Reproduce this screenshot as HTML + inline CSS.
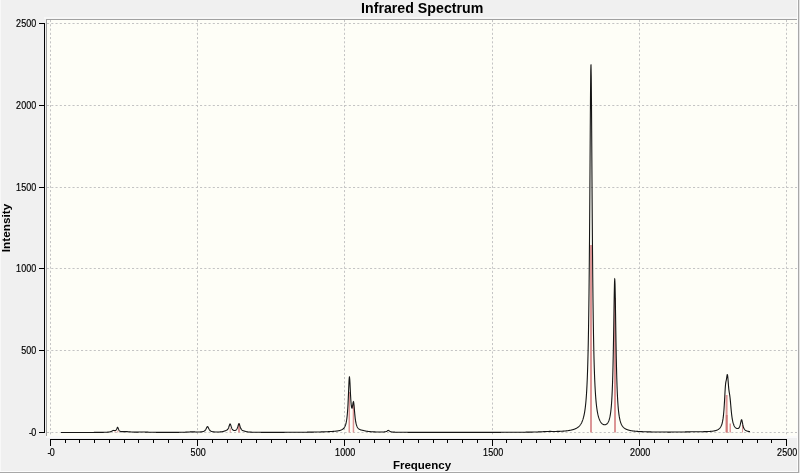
<!DOCTYPE html>
<html><head><meta charset="utf-8"><style>
html,body{margin:0;padding:0;width:800px;height:473px;overflow:hidden;background:#f0f0f0}
svg{display:block;will-change:transform}
</style></head><body>
<svg width="800" height="473" viewBox="0 0 800 473" shape-rendering="crispEdges">
<rect x="0" y="0" width="800" height="473" fill="#f0f0f0"/>
<rect x="0" y="0" width="1" height="473" fill="#f8f8f8"/>
<rect x="797" y="0" width="1" height="473" fill="#fcfcfc"/>
<rect x="798" y="0" width="1" height="473" fill="#a8a8a8"/>
<rect x="799" y="0" width="1" height="473" fill="#e4e4e4"/>
<rect x="0" y="471" width="798" height="1" fill="#fcfcfc"/>
<rect x="0" y="472" width="799" height="1" fill="#a8a8a8"/>
<rect x="46" y="19" width="751" height="419" fill="#fafafa"/>
<rect x="44" y="17" width="753" height="2" fill="#f7f7f7"/>
<rect x="47" y="20" width="750" height="416" fill="#fefef7"/>
<rect x="46" y="19" width="751" height="1" fill="#a0a0a0"/>
<rect x="46" y="19" width="1" height="417" fill="#a0a0a0"/>
<line x1="47" y1="23.5" x2="797" y2="23.5" stroke="#c4c4c4" stroke-dasharray="2.1,2.15" shape-rendering="auto"/><line x1="47" y1="105.5" x2="797" y2="105.5" stroke="#c4c4c4" stroke-dasharray="2.1,2.15" shape-rendering="auto"/><line x1="47" y1="187.5" x2="797" y2="187.5" stroke="#c4c4c4" stroke-dasharray="2.1,2.15" shape-rendering="auto"/><line x1="47" y1="268.5" x2="797" y2="268.5" stroke="#c4c4c4" stroke-dasharray="2.1,2.15" shape-rendering="auto"/><line x1="47" y1="350.5" x2="797" y2="350.5" stroke="#c4c4c4" stroke-dasharray="2.1,2.15" shape-rendering="auto"/><line x1="47" y1="432.5" x2="797" y2="432.5" stroke="#c4c4c4" stroke-dasharray="2.1,2.15" shape-rendering="auto"/><line x1="50.5" y1="20" x2="50.5" y2="436" stroke="#c4c4c4" stroke-dasharray="2.1,2.15" shape-rendering="auto"/><line x1="197.5" y1="20" x2="197.5" y2="436" stroke="#c4c4c4" stroke-dasharray="2.1,2.15" shape-rendering="auto"/><line x1="344.5" y1="20" x2="344.5" y2="436" stroke="#c4c4c4" stroke-dasharray="2.1,2.15" shape-rendering="auto"/><line x1="492.5" y1="20" x2="492.5" y2="436" stroke="#c4c4c4" stroke-dasharray="2.1,2.15" shape-rendering="auto"/><line x1="639.5" y1="20" x2="639.5" y2="436" stroke="#c4c4c4" stroke-dasharray="2.1,2.15" shape-rendering="auto"/><line x1="786.5" y1="20" x2="786.5" y2="436" stroke="#c4c4c4" stroke-dasharray="2.1,2.15" shape-rendering="auto"/>
<rect x="44" y="23" width="1" height="410" fill="#000"/><rect x="39" y="23" width="6" height="1" fill="#000"/><rect x="39" y="105" width="6" height="1" fill="#000"/><rect x="39" y="187" width="6" height="1" fill="#000"/><rect x="39" y="268" width="6" height="1" fill="#000"/><rect x="39" y="350" width="6" height="1" fill="#000"/><rect x="39" y="432" width="6" height="1" fill="#000"/><rect x="50" y="439" width="737" height="1" fill="#000"/><rect x="50" y="439" width="1" height="7" fill="#000"/><rect x="65" y="439" width="1" height="4" fill="#000"/><rect x="79" y="439" width="1" height="4" fill="#000"/><rect x="94" y="439" width="1" height="4" fill="#000"/><rect x="109" y="439" width="1" height="4" fill="#000"/><rect x="124" y="439" width="1" height="4" fill="#000"/><rect x="138" y="439" width="1" height="4" fill="#000"/><rect x="153" y="439" width="1" height="4" fill="#000"/><rect x="168" y="439" width="1" height="4" fill="#000"/><rect x="182" y="439" width="1" height="4" fill="#000"/><rect x="197" y="439" width="1" height="7" fill="#000"/><rect x="212" y="439" width="1" height="4" fill="#000"/><rect x="227" y="439" width="1" height="4" fill="#000"/><rect x="241" y="439" width="1" height="4" fill="#000"/><rect x="256" y="439" width="1" height="4" fill="#000"/><rect x="271" y="439" width="1" height="4" fill="#000"/><rect x="286" y="439" width="1" height="4" fill="#000"/><rect x="300" y="439" width="1" height="4" fill="#000"/><rect x="315" y="439" width="1" height="4" fill="#000"/><rect x="330" y="439" width="1" height="4" fill="#000"/><rect x="344" y="439" width="1" height="7" fill="#000"/><rect x="359" y="439" width="1" height="4" fill="#000"/><rect x="374" y="439" width="1" height="4" fill="#000"/><rect x="389" y="439" width="1" height="4" fill="#000"/><rect x="403" y="439" width="1" height="4" fill="#000"/><rect x="418" y="439" width="1" height="4" fill="#000"/><rect x="433" y="439" width="1" height="4" fill="#000"/><rect x="447" y="439" width="1" height="4" fill="#000"/><rect x="462" y="439" width="1" height="4" fill="#000"/><rect x="477" y="439" width="1" height="4" fill="#000"/><rect x="492" y="439" width="1" height="7" fill="#000"/><rect x="506" y="439" width="1" height="4" fill="#000"/><rect x="521" y="439" width="1" height="4" fill="#000"/><rect x="536" y="439" width="1" height="4" fill="#000"/><rect x="550" y="439" width="1" height="4" fill="#000"/><rect x="565" y="439" width="1" height="4" fill="#000"/><rect x="580" y="439" width="1" height="4" fill="#000"/><rect x="595" y="439" width="1" height="4" fill="#000"/><rect x="609" y="439" width="1" height="4" fill="#000"/><rect x="624" y="439" width="1" height="4" fill="#000"/><rect x="639" y="439" width="1" height="7" fill="#000"/><rect x="654" y="439" width="1" height="4" fill="#000"/><rect x="668" y="439" width="1" height="4" fill="#000"/><rect x="683" y="439" width="1" height="4" fill="#000"/><rect x="698" y="439" width="1" height="4" fill="#000"/><rect x="712" y="439" width="1" height="4" fill="#000"/><rect x="727" y="439" width="1" height="4" fill="#000"/><rect x="742" y="439" width="1" height="4" fill="#000"/><rect x="757" y="439" width="1" height="4" fill="#000"/><rect x="771" y="439" width="1" height="4" fill="#000"/><rect x="786" y="439" width="1" height="7" fill="#000"/>
<text transform="translate(36.3,27.2) scale(0.88,1)" text-anchor="end" font-size="10.2" font-family="Liberation Sans" fill="#000" stroke="#000" stroke-width="0.18" textLength="22.95" lengthAdjust="spacing">2500</text><text transform="translate(36.3,109.2) scale(0.88,1)" text-anchor="end" font-size="10.2" font-family="Liberation Sans" fill="#000" stroke="#000" stroke-width="0.18" textLength="22.95" lengthAdjust="spacing">2000</text><text transform="translate(36.3,191.2) scale(0.88,1)" text-anchor="end" font-size="10.2" font-family="Liberation Sans" fill="#000" stroke="#000" stroke-width="0.18" textLength="22.95" lengthAdjust="spacing">1500</text><text transform="translate(36.3,272.2) scale(0.88,1)" text-anchor="end" font-size="10.2" font-family="Liberation Sans" fill="#000" stroke="#000" stroke-width="0.18" textLength="22.95" lengthAdjust="spacing">1000</text><text transform="translate(36.3,354.2) scale(0.88,1)" text-anchor="end" font-size="10.2" font-family="Liberation Sans" fill="#000" stroke="#000" stroke-width="0.18" textLength="17.22" lengthAdjust="spacing">500</text><text transform="translate(36.3,436.2) scale(0.88,1)" text-anchor="end" font-size="10.2" font-family="Liberation Sans" fill="#000" stroke="#000" stroke-width="0.18" textLength="8.18" lengthAdjust="spacing">-0</text><text transform="translate(51.2,455.9) scale(0.88,1)" text-anchor="middle" font-size="10.2" font-family="Liberation Sans" fill="#000" stroke="#000" stroke-width="0.18" textLength="8.18" lengthAdjust="spacing">-0</text><text transform="translate(198.2,455.9) scale(0.88,1)" text-anchor="middle" font-size="10.2" font-family="Liberation Sans" fill="#000" stroke="#000" stroke-width="0.18" textLength="17.22" lengthAdjust="spacing">500</text><text transform="translate(345.2,455.9) scale(0.88,1)" text-anchor="middle" font-size="10.2" font-family="Liberation Sans" fill="#000" stroke="#000" stroke-width="0.18" textLength="22.95" lengthAdjust="spacing">1000</text><text transform="translate(493.2,455.9) scale(0.88,1)" text-anchor="middle" font-size="10.2" font-family="Liberation Sans" fill="#000" stroke="#000" stroke-width="0.18" textLength="22.95" lengthAdjust="spacing">1500</text><text transform="translate(640.2,455.9) scale(0.88,1)" text-anchor="middle" font-size="10.2" font-family="Liberation Sans" fill="#000" stroke="#000" stroke-width="0.18" textLength="22.95" lengthAdjust="spacing">2000</text><text transform="translate(787.2,455.9) scale(0.88,1)" text-anchor="middle" font-size="10.2" font-family="Liberation Sans" fill="#000" stroke="#000" stroke-width="0.18" textLength="22.95" lengthAdjust="spacing">2500</text>
<text x="422.2" y="12.6" text-anchor="middle" font-size="14.2" font-weight="bold" font-family="Liberation Sans" fill="#000">Infrared Spectrum</text>
<text x="422" y="469.2" text-anchor="middle" font-size="11.5" font-weight="bold" font-family="Liberation Sans" fill="#000">Frequency</text>
<text transform="translate(10.3,228) rotate(-90)" text-anchor="middle" font-size="11.8" font-weight="bold" font-family="Liberation Sans" fill="#000">Intensity</text>
<g shape-rendering="auto">
<rect x="114.5" y="430.6" width="1" height="1.8999999999999773" fill="#dc9696"/><rect x="117.3" y="430.6" width="1" height="1.8999999999999773" fill="#dc9696"/><rect x="229.7" y="428" width="1" height="4.5" fill="#dc9696"/><rect x="238" y="423.5" width="2" height="9.0" fill="#dc9696"/><rect x="348.5" y="392" width="1.5" height="40.5" fill="#dc9696"/><rect x="352.7" y="405" width="1.5" height="27.5" fill="#dc9696"/><rect x="590" y="245" width="2" height="187.5" fill="#dc9696"/><rect x="614" y="298" width="2" height="134.5" fill="#dc9696"/><rect x="725.6" y="395" width="2" height="37.5" fill="#dc9696"/><rect x="729.5" y="423.5" width="1.5" height="9.0" fill="#dc9696"/><rect x="725.8" y="415" width="1.8" height="17.5" fill="#cf7878"/><rect x="742" y="425" width="1" height="7.5" fill="#dc9696"/>
<polyline points="61.00,432.47 61.25,432.47 61.50,432.47 61.75,432.47 62.00,432.47 62.25,432.47 62.50,432.47 62.75,432.47 63.00,432.47 63.25,432.47 63.50,432.47 63.75,432.47 64.00,432.47 64.25,432.47 64.50,432.47 64.75,432.47 65.00,432.47 65.25,432.47 65.50,432.47 65.75,432.47 66.00,432.47 66.25,432.47 66.50,432.47 66.75,432.47 67.00,432.47 67.25,432.47 67.50,432.47 67.75,432.47 68.00,432.47 68.25,432.47 68.50,432.47 68.75,432.47 69.00,432.47 69.25,432.47 69.50,432.47 69.75,432.47 70.00,432.47 70.25,432.47 70.50,432.47 70.75,432.47 71.00,432.47 71.25,432.47 71.50,432.47 71.75,432.47 72.00,432.47 72.25,432.47 72.50,432.47 72.75,432.47 73.00,432.47 73.25,432.47 73.50,432.47 73.75,432.46 74.00,432.46 74.25,432.46 74.50,432.46 74.75,432.46 75.00,432.46 75.25,432.46 75.50,432.46 75.75,432.46 76.00,432.46 76.25,432.46 76.50,432.46 76.75,432.46 77.00,432.46 77.25,432.46 77.50,432.46 77.75,432.46 78.00,432.46 78.25,432.46 78.50,432.46 78.75,432.46 79.00,432.46 79.25,432.46 79.50,432.46 79.75,432.46 80.00,432.46 80.25,432.46 80.50,432.46 80.75,432.46 81.00,432.46 81.25,432.46 81.50,432.46 81.75,432.46 82.00,432.46 82.25,432.46 82.50,432.45 82.75,432.45 83.00,432.45 83.25,432.45 83.50,432.45 83.75,432.45 84.00,432.45 84.25,432.45 84.50,432.45 84.75,432.45 85.00,432.45 85.25,432.45 85.50,432.45 85.75,432.45 86.00,432.45 86.25,432.45 86.50,432.45 86.75,432.45 87.00,432.45 87.25,432.45 87.50,432.45 87.75,432.44 88.00,432.44 88.25,432.44 88.50,432.44 88.75,432.44 89.00,432.44 89.25,432.44 89.50,432.44 89.75,432.44 90.00,432.44 90.25,432.44 90.50,432.44 90.75,432.44 91.00,432.44 91.25,432.44 91.50,432.43 91.75,432.43 92.00,432.43 92.25,432.43 92.50,432.43 92.75,432.43 93.00,432.43 93.25,432.43 93.50,432.43 93.75,432.43 94.00,432.42 94.25,432.42 94.50,432.42 94.75,432.42 95.00,432.42 95.25,432.42 95.50,432.42 95.75,432.42 96.00,432.41 96.25,432.41 96.50,432.41 96.75,432.41 97.00,432.41 97.25,432.41 97.50,432.40 97.75,432.40 98.00,432.40 98.25,432.40 98.50,432.40 98.75,432.40 99.00,432.39 99.25,432.39 99.50,432.39 99.75,432.39 100.00,432.38 100.25,432.38 100.50,432.38 100.75,432.37 101.00,432.37 101.25,432.37 101.50,432.36 101.75,432.36 102.00,432.36 102.25,432.35 102.50,432.35 102.75,432.34 103.00,432.34 103.25,432.34 103.50,432.33 103.75,432.32 104.00,432.32 104.25,432.31 104.50,432.31 104.75,432.30 105.00,432.29 105.25,432.28 105.50,432.27 105.75,432.26 106.00,432.25 106.25,432.24 106.50,432.23 106.75,432.22 107.00,432.20 107.25,432.19 107.50,432.17 107.75,432.15 108.00,432.13 108.25,432.11 108.50,432.08 108.75,432.05 109.00,432.02 109.25,431.98 109.50,431.94 109.75,431.90 110.00,431.85 110.25,431.79 110.50,431.72 110.75,431.65 111.00,431.56 111.25,431.47 111.50,431.36 111.75,431.24 112.00,431.11 112.25,430.98 112.50,430.84 112.75,430.71 113.00,430.59 113.25,430.50 113.50,430.45 113.75,430.42 114.00,430.43 114.25,430.46 114.50,430.50 114.75,430.53 115.00,430.54 115.25,430.52 115.50,430.45 115.75,430.33 116.00,430.13 116.25,429.84 116.50,429.43 116.75,428.90 117.00,428.28 117.25,427.68 117.50,427.33 117.60,427.30 117.75,427.40 118.00,427.87 118.25,428.54 118.50,429.21 118.75,429.78 119.00,430.23 119.25,430.57 119.50,430.83 119.75,431.03 120.00,431.19 120.25,431.30 120.50,431.40 120.75,431.47 121.00,431.52 121.25,431.56 121.50,431.59 121.75,431.62 122.00,431.63 122.25,431.64 122.50,431.65 122.75,431.65 123.00,431.65 123.25,431.64 123.50,431.63 123.75,431.63 124.00,431.62 124.25,431.61 124.50,431.60 124.75,431.59 125.00,431.59 125.25,431.58 125.50,431.58 125.75,431.58 126.00,431.58 126.25,431.59 126.50,431.60 126.75,431.61 127.00,431.62 127.25,431.64 127.50,431.66 127.75,431.68 128.00,431.70 128.25,431.73 128.50,431.75 128.75,431.77 129.00,431.80 129.25,431.82 129.50,431.84 129.75,431.86 130.00,431.88 130.25,431.90 130.50,431.92 130.75,431.94 131.00,431.96 131.25,431.97 131.50,431.99 131.75,432.00 132.00,432.01 132.25,432.02 132.50,432.03 132.75,432.04 133.00,432.05 133.25,432.06 133.50,432.07 133.75,432.07 134.00,432.08 134.25,432.08 134.50,432.09 134.75,432.09 135.00,432.09 135.25,432.09 135.50,432.10 135.75,432.10 136.00,432.10 136.25,432.10 136.50,432.10 136.75,432.10 137.00,432.09 137.25,432.09 137.50,432.09 137.75,432.09 138.00,432.08 138.25,432.08 138.50,432.08 138.75,432.07 139.00,432.07 139.25,432.07 139.50,432.06 139.75,432.06 140.00,432.06 140.25,432.05 140.50,432.05 140.75,432.05 141.00,432.04 141.25,432.04 141.50,432.04 141.75,432.04 142.00,432.04 142.25,432.04 142.50,432.04 142.75,432.04 143.00,432.04 143.25,432.04 143.50,432.04 143.75,432.05 144.00,432.05 144.25,432.06 144.50,432.06 144.75,432.07 145.00,432.07 145.25,432.08 145.50,432.08 145.75,432.09 146.00,432.10 146.25,432.11 146.50,432.11 146.75,432.12 147.00,432.13 147.25,432.14 147.50,432.14 147.75,432.15 148.00,432.16 148.25,432.17 148.50,432.18 148.75,432.18 149.00,432.19 149.25,432.20 149.50,432.21 149.75,432.21 150.00,432.22 150.25,432.23 150.50,432.23 150.75,432.24 151.00,432.24 151.25,432.25 151.50,432.26 151.75,432.26 152.00,432.27 152.25,432.27 152.50,432.28 152.75,432.28 153.00,432.28 153.25,432.29 153.50,432.29 153.75,432.30 154.00,432.30 154.25,432.30 154.50,432.31 154.75,432.31 155.00,432.32 155.25,432.32 155.50,432.32 155.75,432.32 156.00,432.33 156.25,432.33 156.50,432.33 156.75,432.33 157.00,432.34 157.25,432.34 157.50,432.34 157.75,432.34 158.00,432.35 158.25,432.35 158.50,432.35 158.75,432.35 159.00,432.35 159.25,432.35 159.50,432.36 159.75,432.36 160.00,432.36 160.25,432.36 160.50,432.36 160.75,432.36 161.00,432.36 161.25,432.37 161.50,432.37 161.75,432.37 162.00,432.37 162.25,432.37 162.50,432.37 162.75,432.37 163.00,432.37 163.25,432.37 163.50,432.37 163.75,432.37 164.00,432.37 164.25,432.37 164.50,432.37 164.75,432.38 165.00,432.38 165.25,432.38 165.50,432.38 165.75,432.38 166.00,432.38 166.25,432.38 166.50,432.38 166.75,432.38 167.00,432.38 167.25,432.38 167.50,432.38 167.75,432.38 168.00,432.38 168.25,432.38 168.50,432.38 168.75,432.38 169.00,432.38 169.25,432.38 169.50,432.38 169.75,432.38 170.00,432.37 170.25,432.37 170.50,432.37 170.75,432.37 171.00,432.37 171.25,432.37 171.50,432.37 171.75,432.37 172.00,432.37 172.25,432.37 172.50,432.37 172.75,432.37 173.00,432.37 173.25,432.37 173.50,432.36 173.75,432.36 174.00,432.36 174.25,432.36 174.50,432.36 174.75,432.36 175.00,432.36 175.25,432.36 175.50,432.35 175.75,432.35 176.00,432.35 176.25,432.35 176.50,432.35 176.75,432.34 177.00,432.34 177.25,432.34 177.50,432.34 177.75,432.34 178.00,432.33 178.25,432.33 178.50,432.33 178.75,432.33 179.00,432.32 179.25,432.32 179.50,432.32 179.75,432.31 180.00,432.31 180.25,432.30 180.50,432.30 180.75,432.30 181.00,432.29 181.25,432.29 181.50,432.28 181.75,432.28 182.00,432.27 182.25,432.27 182.50,432.26 182.75,432.26 183.00,432.25 183.25,432.24 183.50,432.24 183.75,432.23 184.00,432.22 184.25,432.21 184.50,432.20 184.75,432.20 185.00,432.19 185.25,432.18 185.50,432.17 185.75,432.16 186.00,432.14 186.25,432.13 186.50,432.12 186.75,432.11 187.00,432.09 187.25,432.08 187.50,432.07 187.75,432.05 188.00,432.04 188.25,432.02 188.50,432.01 188.75,431.99 189.00,431.98 189.25,431.96 189.50,431.95 189.75,431.94 190.00,431.92 190.25,431.91 190.50,431.90 190.75,431.89 191.00,431.88 191.25,431.87 191.50,431.86 191.75,431.86 192.00,431.86 192.25,431.85 192.50,431.85 192.75,431.86 193.00,431.86 193.25,431.86 193.50,431.87 193.75,431.88 194.00,431.88 194.25,431.89 194.50,431.90 194.75,431.91 195.00,431.92 195.25,431.93 195.50,431.93 195.75,431.94 196.00,431.95 196.25,431.96 196.50,431.96 196.75,431.97 197.00,431.98 197.25,431.98 197.50,431.98 197.75,431.99 198.00,431.99 198.25,431.99 198.50,431.99 198.75,431.98 199.00,431.98 199.25,431.97 199.50,431.97 199.75,431.96 200.00,431.95 200.25,431.94 200.50,431.92 200.75,431.91 201.00,431.89 201.25,431.86 201.50,431.84 201.75,431.81 202.00,431.77 202.25,431.73 202.50,431.69 202.75,431.63 203.00,431.57 203.25,431.50 203.50,431.42 203.75,431.32 204.00,431.21 204.25,431.07 204.50,430.91 204.75,430.72 205.00,430.50 205.25,430.23 205.50,429.91 205.75,429.54 206.00,429.10 206.25,428.61 206.50,428.07 206.75,427.54 207.00,427.06 207.25,426.73 207.50,426.61 207.75,426.73 208.00,427.06 208.25,427.54 208.50,428.07 208.75,428.61 209.00,429.10 209.25,429.54 209.50,429.91 209.75,430.23 210.00,430.50 210.25,430.73 210.50,430.91 210.75,431.07 211.00,431.21 211.25,431.32 211.50,431.42 211.75,431.50 212.00,431.58 212.25,431.64 212.50,431.69 212.75,431.74 213.00,431.78 213.25,431.82 213.50,431.85 213.75,431.87 214.00,431.90 214.25,431.92 214.50,431.94 214.75,431.95 215.00,431.96 215.25,431.98 215.50,431.99 215.75,431.99 216.00,432.00 216.25,432.01 216.50,432.01 216.75,432.01 217.00,432.01 217.25,432.01 217.50,432.01 217.75,432.01 218.00,432.00 218.25,432.00 218.50,431.99 218.75,431.98 219.00,431.97 219.25,431.96 219.50,431.95 219.75,431.94 220.00,431.92 220.25,431.90 220.50,431.88 220.75,431.86 221.00,431.84 221.25,431.81 221.50,431.78 221.75,431.75 222.00,431.71 222.25,431.67 222.50,431.62 222.75,431.57 223.00,431.52 223.25,431.46 223.50,431.39 223.75,431.32 224.00,431.24 224.25,431.16 224.50,431.07 224.75,430.98 225.00,430.88 225.25,430.78 225.50,430.68 225.75,430.58 226.00,430.47 226.25,430.36 226.50,430.24 226.75,430.10 227.00,429.94 227.25,429.75 227.50,429.52 227.75,429.23 228.00,428.88 228.25,428.44 228.50,427.91 228.75,427.27 229.00,426.53 229.25,425.74 229.50,424.96 229.75,424.33 230.00,423.99 230.10,423.96 230.25,424.04 230.50,424.46 230.75,425.15 231.00,425.96 231.25,426.77 231.50,427.51 231.75,428.14 232.00,428.68 232.25,429.11 232.50,429.47 232.75,429.75 233.00,429.98 233.25,430.16 233.50,430.30 233.75,430.40 234.00,430.47 234.25,430.51 234.50,430.53 234.75,430.52 235.00,430.49 235.25,430.42 235.50,430.33 235.75,430.20 236.00,430.03 236.25,429.82 236.50,429.55 236.75,429.21 237.00,428.80 237.25,428.28 237.50,427.67 237.75,426.94 238.00,426.12 238.25,425.27 238.50,424.49 238.75,423.93 239.00,423.72 239.25,423.94 239.50,424.51 239.75,425.30 240.00,426.16 240.25,426.99 240.50,427.72 240.75,428.35 241.00,428.87 241.25,429.29 241.50,429.64 241.75,429.92 242.00,430.14 242.25,430.32 242.50,430.47 242.75,430.58 243.00,430.68 243.25,430.76 243.50,430.83 243.75,430.90 244.00,430.97 244.25,431.04 244.50,431.12 244.75,431.20 245.00,431.27 245.25,431.35 245.50,431.43 245.75,431.50 246.00,431.57 246.25,431.63 246.50,431.69 246.75,431.74 247.00,431.79 247.25,431.83 247.50,431.87 247.75,431.90 248.00,431.93 248.25,431.96 248.50,431.99 248.75,432.01 249.00,432.03 249.25,432.05 249.50,432.07 249.75,432.09 250.00,432.10 250.25,432.12 250.50,432.13 250.75,432.14 251.00,432.15 251.25,432.17 251.50,432.17 251.75,432.18 252.00,432.19 252.25,432.20 252.50,432.21 252.75,432.22 253.00,432.22 253.25,432.23 253.50,432.23 253.75,432.24 254.00,432.25 254.25,432.25 254.50,432.26 254.75,432.26 255.00,432.26 255.25,432.27 255.50,432.27 255.75,432.28 256.00,432.28 256.25,432.28 256.50,432.29 256.75,432.29 257.00,432.29 257.25,432.29 257.50,432.30 257.75,432.30 258.00,432.30 258.25,432.30 258.50,432.31 258.75,432.31 259.00,432.31 259.25,432.31 259.50,432.31 259.75,432.32 260.00,432.32 260.25,432.32 260.50,432.32 260.75,432.32 261.00,432.32 261.25,432.33 261.50,432.33 261.75,432.33 262.00,432.33 262.25,432.33 262.50,432.33 262.75,432.33 263.00,432.33 263.25,432.33 263.50,432.33 263.75,432.34 264.00,432.34 264.25,432.34 264.50,432.34 264.75,432.34 265.00,432.34 265.25,432.34 265.50,432.34 265.75,432.34 266.00,432.34 266.25,432.34 266.50,432.34 266.75,432.34 267.00,432.34 267.25,432.34 267.50,432.34 267.75,432.34 268.00,432.34 268.25,432.35 268.50,432.35 268.75,432.35 269.00,432.35 269.25,432.35 269.50,432.35 269.75,432.35 270.00,432.35 270.25,432.35 270.50,432.35 270.75,432.35 271.00,432.35 271.25,432.35 271.50,432.35 271.75,432.35 272.00,432.35 272.25,432.35 272.50,432.35 272.75,432.35 273.00,432.35 273.25,432.35 273.50,432.35 273.75,432.35 274.00,432.35 274.25,432.35 274.50,432.35 274.75,432.35 275.00,432.34 275.25,432.34 275.50,432.34 275.75,432.34 276.00,432.34 276.25,432.34 276.50,432.34 276.75,432.34 277.00,432.34 277.25,432.34 277.50,432.34 277.75,432.34 278.00,432.34 278.25,432.34 278.50,432.34 278.75,432.34 279.00,432.34 279.25,432.34 279.50,432.34 279.75,432.34 280.00,432.34 280.25,432.34 280.50,432.34 280.75,432.34 281.00,432.34 281.25,432.33 281.50,432.33 281.75,432.33 282.00,432.33 282.25,432.33 282.50,432.33 282.75,432.33 283.00,432.33 283.25,432.33 283.50,432.33 283.75,432.33 284.00,432.33 284.25,432.33 284.50,432.33 284.75,432.32 285.00,432.32 285.25,432.32 285.50,432.32 285.75,432.32 286.00,432.32 286.25,432.32 286.50,432.32 286.75,432.32 287.00,432.32 287.25,432.32 287.50,432.32 287.75,432.31 288.00,432.31 288.25,432.31 288.50,432.31 288.75,432.31 289.00,432.31 289.25,432.31 289.50,432.31 289.75,432.31 290.00,432.30 290.25,432.30 290.50,432.30 290.75,432.30 291.00,432.30 291.25,432.30 291.50,432.30 291.75,432.30 292.00,432.30 292.25,432.29 292.50,432.29 292.75,432.29 293.00,432.29 293.25,432.29 293.50,432.29 293.75,432.29 294.00,432.28 294.25,432.28 294.50,432.28 294.75,432.28 295.00,432.28 295.25,432.28 295.50,432.28 295.75,432.27 296.00,432.27 296.25,432.27 296.50,432.27 296.75,432.27 297.00,432.27 297.25,432.26 297.50,432.26 297.75,432.26 298.00,432.26 298.25,432.26 298.50,432.26 298.75,432.25 299.00,432.25 299.25,432.25 299.50,432.25 299.75,432.25 300.00,432.24 300.25,432.24 300.50,432.24 300.75,432.24 301.00,432.24 301.25,432.23 301.50,432.23 301.75,432.23 302.00,432.23 302.25,432.22 302.50,432.22 302.75,432.22 303.00,432.22 303.25,432.22 303.50,432.21 303.75,432.21 304.00,432.21 304.25,432.21 304.50,432.20 304.75,432.20 305.00,432.20 305.25,432.19 305.50,432.19 305.75,432.19 306.00,432.19 306.25,432.18 306.50,432.18 306.75,432.18 307.00,432.18 307.25,432.17 307.50,432.17 307.75,432.17 308.00,432.16 308.25,432.16 308.50,432.16 308.75,432.15 309.00,432.15 309.25,432.15 309.50,432.14 309.75,432.14 310.00,432.14 310.25,432.13 310.50,432.13 310.75,432.13 311.00,432.12 311.25,432.12 311.50,432.11 311.75,432.11 312.00,432.11 312.25,432.10 312.50,432.10 312.75,432.09 313.00,432.09 313.25,432.09 313.50,432.08 313.75,432.08 314.00,432.07 314.25,432.07 314.50,432.06 314.75,432.06 315.00,432.05 315.25,432.05 315.50,432.04 315.75,432.04 316.00,432.03 316.25,432.03 316.50,432.02 316.75,432.02 317.00,432.01 317.25,432.01 317.50,432.00 317.75,432.00 318.00,431.99 318.25,431.99 318.50,431.98 318.75,431.97 319.00,431.97 319.25,431.96 319.50,431.96 319.75,431.95 320.00,431.94 320.25,431.94 320.50,431.93 320.75,431.92 321.00,431.92 321.25,431.91 321.50,431.90 321.75,431.90 322.00,431.89 322.25,431.88 322.50,431.87 322.75,431.87 323.00,431.86 323.25,431.85 323.50,431.84 323.75,431.83 324.00,431.83 324.25,431.82 324.50,431.81 324.75,431.80 325.00,431.79 325.25,431.78 325.50,431.77 325.75,431.76 326.00,431.76 326.25,431.75 326.50,431.74 326.75,431.73 327.00,431.72 327.25,431.71 327.50,431.70 327.75,431.68 328.00,431.67 328.25,431.66 328.50,431.65 328.75,431.64 329.00,431.63 329.25,431.62 329.50,431.60 329.75,431.59 330.00,431.58 330.25,431.57 330.50,431.55 330.75,431.54 331.00,431.52 331.25,431.51 331.50,431.49 331.75,431.48 332.00,431.46 332.25,431.45 332.50,431.43 332.75,431.41 333.00,431.40 333.25,431.38 333.50,431.36 333.75,431.34 334.00,431.32 334.25,431.30 334.50,431.28 334.75,431.25 335.00,431.23 335.25,431.21 335.50,431.18 335.75,431.15 336.00,431.13 336.25,431.10 336.50,431.07 336.75,431.03 337.00,431.00 337.25,430.97 337.50,430.93 337.75,430.89 338.00,430.85 338.25,430.80 338.50,430.76 338.75,430.71 339.00,430.66 339.25,430.60 339.50,430.54 339.75,430.48 340.00,430.41 340.25,430.34 340.50,430.26 340.75,430.17 341.00,430.08 341.25,429.98 341.50,429.87 341.75,429.75 342.00,429.62 342.25,429.48 342.50,429.32 342.75,429.15 343.00,428.96 343.25,428.74 343.50,428.51 343.75,428.24 344.00,427.94 344.25,427.61 344.50,427.22 344.75,426.78 345.00,426.28 345.25,425.70 345.50,425.03 345.75,424.24 346.00,423.31 346.25,422.20 346.50,420.88 346.75,419.28 347.00,417.34 347.25,414.97 347.50,412.07 347.75,408.51 348.00,404.19 348.25,399.06 348.50,393.22 348.75,387.11 349.00,381.59 349.25,377.88 349.42,376.95 349.50,377.02 349.75,379.19 350.00,383.59 350.25,388.95 350.50,394.22 350.75,398.81 351.00,402.47 351.25,405.18 351.50,406.98 351.75,407.94 352.00,408.12 352.25,407.59 352.50,406.43 352.75,404.84 353.00,403.16 353.25,401.92 353.50,401.67 353.54,401.75 353.75,402.72 354.00,404.94 354.25,407.85 354.50,410.94 354.75,413.86 355.00,416.42 355.25,418.60 355.50,420.42 355.75,421.92 356.00,423.16 356.25,424.20 356.50,425.06 356.75,425.78 357.00,426.39 357.25,426.91 357.50,427.35 357.75,427.74 358.00,428.07 358.25,428.36 358.50,428.61 358.75,428.84 359.00,429.03 359.25,429.20 359.50,429.35 359.75,429.49 360.00,429.61 360.25,429.71 360.50,429.80 360.75,429.89 361.00,429.96 361.25,430.03 361.50,430.09 361.75,430.15 362.00,430.20 362.25,430.26 362.50,430.31 362.75,430.36 363.00,430.41 363.25,430.47 363.50,430.52 363.75,430.58 364.00,430.64 364.25,430.69 364.50,430.75 364.75,430.81 365.00,430.87 365.25,430.93 365.50,430.98 365.75,431.03 366.00,431.09 366.25,431.14 366.50,431.18 366.75,431.23 367.00,431.27 367.25,431.31 367.50,431.35 367.75,431.38 368.00,431.42 368.25,431.45 368.50,431.48 368.75,431.51 369.00,431.54 369.25,431.56 369.50,431.59 369.75,431.61 370.00,431.63 370.25,431.65 370.50,431.67 370.75,431.69 371.00,431.71 371.25,431.73 371.50,431.75 371.75,431.76 372.00,431.78 372.25,431.79 372.50,431.81 372.75,431.82 373.00,431.83 373.25,431.84 373.50,431.86 373.75,431.87 374.00,431.88 374.25,431.89 374.50,431.90 374.75,431.91 375.00,431.92 375.25,431.92 375.50,431.93 375.75,431.94 376.00,431.95 376.25,431.96 376.50,431.96 376.75,431.97 377.00,431.98 377.25,431.98 377.50,431.99 377.75,431.99 378.00,432.00 378.25,432.00 378.50,432.01 378.75,432.01 379.00,432.01 379.25,432.02 379.50,432.02 379.75,432.02 380.00,432.02 380.25,432.03 380.50,432.03 380.75,432.03 381.00,432.03 381.25,432.03 381.50,432.03 381.75,432.02 382.00,432.02 382.25,432.02 382.50,432.01 382.75,432.00 383.00,432.00 383.25,431.99 383.50,431.97 383.75,431.96 384.00,431.94 384.25,431.92 384.50,431.90 384.75,431.87 385.00,431.83 385.25,431.79 385.50,431.74 385.75,431.68 386.00,431.60 386.25,431.51 386.50,431.40 386.75,431.27 387.00,431.12 387.25,430.95 387.50,430.77 387.75,430.60 388.00,430.48 388.25,430.42 388.30,430.42 388.50,430.45 388.75,430.55 389.00,430.71 389.25,430.90 389.50,431.08 389.75,431.24 390.00,431.39 390.25,431.51 390.50,431.62 390.75,431.70 391.00,431.78 391.25,431.84 391.50,431.89 391.75,431.93 392.00,431.97 392.25,432.00 392.50,432.03 392.75,432.05 393.00,432.07 393.25,432.09 393.50,432.11 393.75,432.12 394.00,432.14 394.25,432.15 394.50,432.16 394.75,432.17 395.00,432.18 395.25,432.19 395.50,432.20 395.75,432.20 396.00,432.21 396.25,432.21 396.50,432.22 396.75,432.23 397.00,432.23 397.25,432.24 397.50,432.24 397.75,432.24 398.00,432.25 398.25,432.25 398.50,432.25 398.75,432.26 399.00,432.26 399.25,432.26 399.50,432.27 399.75,432.27 400.00,432.27 400.25,432.28 400.50,432.28 400.75,432.28 401.00,432.28 401.25,432.29 401.50,432.29 401.75,432.29 402.00,432.29 402.25,432.29 402.50,432.30 402.75,432.30 403.00,432.30 403.25,432.30 403.50,432.30 403.75,432.30 404.00,432.31 404.25,432.31 404.50,432.31 404.75,432.31 405.00,432.31 405.25,432.31 405.50,432.31 405.75,432.32 406.00,432.32 406.25,432.32 406.50,432.32 406.75,432.32 407.00,432.32 407.25,432.32 407.50,432.32 407.75,432.33 408.00,432.33 408.25,432.33 408.50,432.33 408.75,432.33 409.00,432.33 409.25,432.33 409.50,432.33 409.75,432.33 410.00,432.34 410.25,432.34 410.50,432.34 410.75,432.34 411.00,432.34 411.25,432.34 411.50,432.34 411.75,432.34 412.00,432.34 412.25,432.34 412.50,432.34 412.75,432.35 413.00,432.35 413.25,432.35 413.50,432.35 413.75,432.35 414.00,432.35 414.25,432.35 414.50,432.35 414.75,432.35 415.00,432.35 415.25,432.35 415.50,432.35 415.75,432.35 416.00,432.35 416.25,432.36 416.50,432.36 416.75,432.36 417.00,432.36 417.25,432.36 417.50,432.36 417.75,432.36 418.00,432.36 418.25,432.36 418.50,432.36 418.75,432.36 419.00,432.36 419.25,432.36 419.50,432.36 419.75,432.36 420.00,432.36 420.25,432.36 420.50,432.36 420.75,432.37 421.00,432.37 421.25,432.37 421.50,432.37 421.75,432.37 422.00,432.37 422.25,432.37 422.50,432.37 422.75,432.37 423.00,432.37 423.25,432.37 423.50,432.37 423.75,432.37 424.00,432.37 424.25,432.37 424.50,432.37 424.75,432.37 425.00,432.37 425.25,432.37 425.50,432.37 425.75,432.37 426.00,432.37 426.25,432.37 426.50,432.37 426.75,432.37 427.00,432.38 427.25,432.38 427.50,432.38 427.75,432.38 428.00,432.38 428.25,432.38 428.50,432.38 428.75,432.38 429.00,432.38 429.25,432.38 429.50,432.38 429.75,432.38 430.00,432.38 430.25,432.38 430.50,432.38 430.75,432.38 431.00,432.38 431.25,432.38 431.50,432.38 431.75,432.38 432.00,432.38 432.25,432.38 432.50,432.38 432.75,432.38 433.00,432.38 433.25,432.38 433.50,432.38 433.75,432.38 434.00,432.38 434.25,432.38 434.50,432.38 434.75,432.38 435.00,432.38 435.25,432.38 435.50,432.38 435.75,432.38 436.00,432.38 436.25,432.38 436.50,432.38 436.75,432.38 437.00,432.38 437.25,432.38 437.50,432.39 437.75,432.39 438.00,432.39 438.25,432.39 438.50,432.39 438.75,432.39 439.00,432.39 439.25,432.39 439.50,432.39 439.75,432.39 440.00,432.39 440.25,432.39 440.50,432.39 440.75,432.39 441.00,432.39 441.25,432.39 441.50,432.39 441.75,432.39 442.00,432.39 442.25,432.39 442.50,432.39 442.75,432.39 443.00,432.39 443.25,432.39 443.50,432.39 443.75,432.39 444.00,432.39 444.25,432.39 444.50,432.39 444.75,432.39 445.00,432.39 445.25,432.39 445.50,432.39 445.75,432.39 446.00,432.39 446.25,432.39 446.50,432.39 446.75,432.39 447.00,432.39 447.25,432.39 447.50,432.39 447.75,432.39 448.00,432.39 448.25,432.39 448.50,432.39 448.75,432.39 449.00,432.39 449.25,432.39 449.50,432.39 449.75,432.39 450.00,432.39 450.25,432.39 450.50,432.39 450.75,432.39 451.00,432.39 451.25,432.39 451.50,432.39 451.75,432.39 452.00,432.39 452.25,432.39 452.50,432.39 452.75,432.39 453.00,432.39 453.25,432.39 453.50,432.39 453.75,432.39 454.00,432.39 454.25,432.39 454.50,432.39 454.75,432.39 455.00,432.39 455.25,432.39 455.50,432.39 455.75,432.39 456.00,432.39 456.25,432.39 456.50,432.39 456.75,432.39 457.00,432.39 457.25,432.39 457.50,432.39 457.75,432.39 458.00,432.39 458.25,432.39 458.50,432.39 458.75,432.39 459.00,432.39 459.25,432.39 459.50,432.39 459.75,432.39 460.00,432.39 460.25,432.39 460.50,432.39 460.75,432.39 461.00,432.39 461.25,432.39 461.50,432.39 461.75,432.39 462.00,432.39 462.25,432.39 462.50,432.39 462.75,432.39 463.00,432.39 463.25,432.39 463.50,432.39 463.75,432.39 464.00,432.39 464.25,432.39 464.50,432.38 464.75,432.38 465.00,432.38 465.25,432.38 465.50,432.38 465.75,432.38 466.00,432.38 466.25,432.38 466.50,432.38 466.75,432.38 467.00,432.38 467.25,432.38 467.50,432.38 467.75,432.38 468.00,432.38 468.25,432.38 468.50,432.38 468.75,432.38 469.00,432.38 469.25,432.38 469.50,432.38 469.75,432.38 470.00,432.38 470.25,432.38 470.50,432.38 470.75,432.38 471.00,432.38 471.25,432.38 471.50,432.38 471.75,432.38 472.00,432.38 472.25,432.38 472.50,432.38 472.75,432.38 473.00,432.38 473.25,432.38 473.50,432.38 473.75,432.38 474.00,432.38 474.25,432.38 474.50,432.38 474.75,432.38 475.00,432.38 475.25,432.38 475.50,432.38 475.75,432.38 476.00,432.38 476.25,432.37 476.50,432.37 476.75,432.37 477.00,432.37 477.25,432.37 477.50,432.37 477.75,432.37 478.00,432.37 478.25,432.37 478.50,432.37 478.75,432.37 479.00,432.37 479.25,432.37 479.50,432.37 479.75,432.37 480.00,432.37 480.25,432.37 480.50,432.37 480.75,432.37 481.00,432.37 481.25,432.37 481.50,432.37 481.75,432.37 482.00,432.37 482.25,432.37 482.50,432.37 482.75,432.37 483.00,432.37 483.25,432.37 483.50,432.37 483.75,432.36 484.00,432.36 484.25,432.36 484.50,432.36 484.75,432.36 485.00,432.36 485.25,432.36 485.50,432.36 485.75,432.36 486.00,432.36 486.25,432.36 486.50,432.36 486.75,432.36 487.00,432.36 487.25,432.36 487.50,432.36 487.75,432.36 488.00,432.36 488.25,432.36 488.50,432.36 488.75,432.36 489.00,432.36 489.25,432.36 489.50,432.35 489.75,432.35 490.00,432.35 490.25,432.35 490.50,432.35 490.75,432.35 491.00,432.35 491.25,432.35 491.50,432.35 491.75,432.35 492.00,432.35 492.25,432.35 492.50,432.35 492.75,432.35 493.00,432.35 493.25,432.35 493.50,432.35 493.75,432.35 494.00,432.34 494.25,432.34 494.50,432.34 494.75,432.34 495.00,432.34 495.25,432.34 495.50,432.34 495.75,432.34 496.00,432.34 496.25,432.34 496.50,432.34 496.75,432.34 497.00,432.34 497.25,432.34 497.50,432.34 497.75,432.34 498.00,432.33 498.25,432.33 498.50,432.33 498.75,432.33 499.00,432.33 499.25,432.33 499.50,432.33 499.75,432.33 500.00,432.33 500.25,432.33 500.50,432.33 500.75,432.33 501.00,432.33 501.25,432.32 501.50,432.32 501.75,432.32 502.00,432.32 502.25,432.32 502.50,432.32 502.75,432.32 503.00,432.32 503.25,432.32 503.50,432.32 503.75,432.32 504.00,432.32 504.25,432.31 504.50,432.31 504.75,432.31 505.00,432.31 505.25,432.31 505.50,432.31 505.75,432.31 506.00,432.31 506.25,432.31 506.50,432.31 506.75,432.31 507.00,432.30 507.25,432.30 507.50,432.30 507.75,432.30 508.00,432.30 508.25,432.30 508.50,432.30 508.75,432.30 509.00,432.30 509.25,432.29 509.50,432.29 509.75,432.29 510.00,432.29 510.25,432.29 510.50,432.29 510.75,432.29 511.00,432.29 511.25,432.28 511.50,432.28 511.75,432.28 512.00,432.28 512.25,432.28 512.50,432.28 512.75,432.28 513.00,432.28 513.25,432.27 513.50,432.27 513.75,432.27 514.00,432.27 514.25,432.27 514.50,432.27 514.75,432.27 515.00,432.26 515.25,432.26 515.50,432.26 515.75,432.26 516.00,432.26 516.25,432.26 516.50,432.25 516.75,432.25 517.00,432.25 517.25,432.25 517.50,432.25 517.75,432.25 518.00,432.24 518.25,432.24 518.50,432.24 518.75,432.24 519.00,432.24 519.25,432.24 519.50,432.23 519.75,432.23 520.00,432.23 520.25,432.23 520.50,432.23 520.75,432.22 521.00,432.22 521.25,432.22 521.50,432.22 521.75,432.22 522.00,432.21 522.25,432.21 522.50,432.21 522.75,432.21 523.00,432.20 523.25,432.20 523.50,432.20 523.75,432.20 524.00,432.19 524.25,432.19 524.50,432.19 524.75,432.19 525.00,432.18 525.25,432.18 525.50,432.18 525.75,432.17 526.00,432.17 526.25,432.17 526.50,432.17 526.75,432.16 527.00,432.16 527.25,432.16 527.50,432.15 527.75,432.15 528.00,432.15 528.25,432.14 528.50,432.14 528.75,432.14 529.00,432.13 529.25,432.13 529.50,432.12 529.75,432.12 530.00,432.12 530.25,432.11 530.50,432.11 530.75,432.10 531.00,432.10 531.25,432.10 531.50,432.09 531.75,432.09 532.00,432.08 532.25,432.08 532.50,432.07 532.75,432.07 533.00,432.06 533.25,432.06 533.50,432.05 533.75,432.04 534.00,432.04 534.25,432.03 534.50,432.03 534.75,432.02 535.00,432.01 535.25,432.01 535.50,432.00 535.75,431.99 536.00,431.99 536.25,431.98 536.50,431.97 536.75,431.96 537.00,431.95 537.25,431.95 537.50,431.94 537.75,431.93 538.00,431.92 538.25,431.91 538.50,431.90 538.75,431.89 539.00,431.88 539.25,431.87 539.50,431.86 539.75,431.85 540.00,431.84 540.25,431.83 540.50,431.81 540.75,431.80 541.00,431.79 541.25,431.78 541.50,431.76 541.75,431.75 542.00,431.74 542.25,431.72 542.50,431.71 542.75,431.70 543.00,431.68 543.25,431.67 543.50,431.65 543.75,431.64 544.00,431.62 544.25,431.61 544.50,431.59 544.75,431.58 545.00,431.57 545.25,431.55 545.50,431.54 545.75,431.53 546.00,431.51 546.25,431.50 546.50,431.49 546.75,431.48 547.00,431.47 547.25,431.46 547.50,431.45 547.75,431.45 548.00,431.44 548.25,431.43 548.50,431.43 548.75,431.43 549.00,431.42 549.25,431.42 549.50,431.42 549.75,431.42 550.00,431.42 550.25,431.42 550.50,431.42 550.75,431.42 551.00,431.42 551.25,431.42 551.50,431.43 551.75,431.43 552.00,431.43 552.25,431.43 552.50,431.44 552.75,431.44 553.00,431.44 553.25,431.44 553.50,431.44 553.75,431.44 554.00,431.44 554.25,431.44 554.50,431.44 554.75,431.44 555.00,431.44 555.25,431.44 555.50,431.44 555.75,431.44 556.00,431.43 556.25,431.43 556.50,431.43 556.75,431.42 557.00,431.42 557.25,431.41 557.50,431.41 557.75,431.40 558.00,431.40 558.25,431.39 558.50,431.38 558.75,431.37 559.00,431.36 559.25,431.36 559.50,431.35 559.75,431.34 560.00,431.32 560.25,431.31 560.50,431.30 560.75,431.29 561.00,431.28 561.25,431.26 561.50,431.25 561.75,431.24 562.00,431.22 562.25,431.21 562.50,431.19 562.75,431.17 563.00,431.16 563.25,431.14 563.50,431.12 563.75,431.10 564.00,431.08 564.25,431.06 564.50,431.04 564.75,431.02 565.00,430.99 565.25,430.97 565.50,430.94 565.75,430.92 566.00,430.89 566.25,430.87 566.50,430.84 566.75,430.81 567.00,430.78 567.25,430.75 567.50,430.72 567.75,430.68 568.00,430.65 568.25,430.61 568.50,430.58 568.75,430.54 569.00,430.50 569.25,430.46 569.50,430.41 569.75,430.37 570.00,430.32 570.25,430.28 570.50,430.23 570.75,430.18 571.00,430.13 571.25,430.07 571.50,430.01 571.75,429.95 572.00,429.89 572.25,429.83 572.50,429.76 572.75,429.69 573.00,429.62 573.25,429.55 573.50,429.47 573.75,429.39 574.00,429.30 574.25,429.21 574.50,429.12 574.75,429.02 575.00,428.92 575.25,428.81 575.50,428.70 575.75,428.58 576.00,428.46 576.25,428.33 576.50,428.19 576.75,428.05 577.00,427.90 577.25,427.74 577.50,427.57 577.75,427.39 578.00,427.20 578.25,427.01 578.50,426.80 578.75,426.57 579.00,426.34 579.25,426.09 579.50,425.82 579.75,425.53 580.00,425.23 580.25,424.91 580.50,424.56 580.75,424.19 581.00,423.79 581.25,423.36 581.50,422.89 581.75,422.39 582.00,421.85 582.25,421.27 582.50,420.63 582.75,419.94 583.00,419.19 583.25,418.36 583.50,417.46 583.75,416.46 584.00,415.37 584.25,414.15 584.50,412.81 584.75,411.31 585.00,409.63 585.25,407.75 585.50,405.63 585.75,403.23 586.00,400.50 586.25,397.38 586.50,393.80 586.75,389.65 587.00,384.83 587.25,379.20 587.50,372.56 587.75,364.70 588.00,355.32 588.25,344.05 588.50,330.45 588.75,313.97 589.00,293.97 589.25,269.77 589.50,240.83 589.75,207.03 590.00,169.27 590.25,130.30 590.50,95.31 590.75,71.35 590.96,64.46 591.00,64.71 591.25,77.35 591.50,105.61 591.75,142.56 592.00,181.56 592.25,218.22 592.50,250.48 592.75,277.83 593.00,300.59 593.25,319.36 593.50,334.83 593.75,347.60 594.00,358.19 594.25,367.03 594.50,374.44 594.75,380.71 595.00,386.04 595.25,390.59 595.50,394.52 595.75,397.91 596.00,400.87 596.25,403.46 596.50,405.73 596.75,407.73 597.00,409.51 597.25,411.09 597.50,412.50 597.75,413.76 598.00,414.90 598.25,415.92 598.50,416.84 598.75,417.67 599.00,418.43 599.25,419.11 599.50,419.74 599.75,420.30 600.00,420.82 600.25,421.29 600.50,421.71 600.75,422.10 601.00,422.46 601.25,422.78 601.50,423.07 601.75,423.33 602.00,423.57 602.25,423.78 602.50,423.97 602.75,424.14 603.00,424.28 603.25,424.41 603.50,424.51 603.75,424.60 604.00,424.66 604.25,424.71 604.50,424.73 604.75,424.74 605.00,424.72 605.25,424.69 605.50,424.63 605.75,424.55 606.00,424.45 606.25,424.32 606.50,424.16 606.75,423.97 607.00,423.75 607.25,423.50 607.50,423.20 607.75,422.86 608.00,422.47 608.25,422.03 608.50,421.52 608.75,420.94 609.00,420.27 609.25,419.51 609.50,418.63 609.75,417.63 610.00,416.46 610.25,415.11 610.50,413.54 610.75,411.70 611.00,409.54 611.25,406.97 611.50,403.92 611.75,400.27 612.00,395.86 612.25,390.52 612.50,384.02 612.75,376.08 613.00,366.42 613.25,354.76 613.50,341.00 613.75,325.39 614.00,308.95 614.25,293.75 614.50,282.79 614.74,278.98 614.75,278.99 615.00,283.50 615.25,294.98 615.50,310.45 615.75,326.94 616.00,342.49 616.25,356.15 616.50,367.71 616.75,377.28 617.00,385.16 617.25,391.63 617.50,396.95 617.75,401.36 618.00,405.03 618.25,408.11 618.50,410.71 618.75,412.92 619.00,414.81 619.25,416.44 619.50,417.85 619.75,419.08 620.00,420.16 620.25,421.11 620.50,421.95 620.75,422.70 621.00,423.36 621.25,423.96 621.50,424.50 621.75,424.99 622.00,425.43 622.25,425.83 622.50,426.19 622.75,426.53 623.00,426.83 623.25,427.12 623.50,427.38 623.75,427.62 624.00,427.84 624.25,428.04 624.50,428.23 624.75,428.41 625.00,428.58 625.25,428.73 625.50,428.88 625.75,429.01 626.00,429.14 626.25,429.26 626.50,429.38 626.75,429.48 627.00,429.58 627.25,429.68 627.50,429.77 627.75,429.85 628.00,429.93 628.25,430.01 628.50,430.08 628.75,430.15 629.00,430.22 629.25,430.28 629.50,430.34 629.75,430.40 630.00,430.45 630.25,430.51 630.50,430.56 630.75,430.60 631.00,430.65 631.25,430.69 631.50,430.74 631.75,430.78 632.00,430.81 632.25,430.85 632.50,430.89 632.75,430.92 633.00,430.96 633.25,430.99 633.50,431.02 633.75,431.05 634.00,431.08 634.25,431.11 634.50,431.13 634.75,431.16 635.00,431.18 635.25,431.21 635.50,431.23 635.75,431.26 636.00,431.28 636.25,431.30 636.50,431.32 636.75,431.34 637.00,431.36 637.25,431.38 637.50,431.40 637.75,431.41 638.00,431.43 638.25,431.45 638.50,431.46 638.75,431.48 639.00,431.50 639.25,431.51 639.50,431.53 639.75,431.54 640.00,431.55 640.25,431.57 640.50,431.58 640.75,431.59 641.00,431.60 641.25,431.62 641.50,431.63 641.75,431.64 642.00,431.65 642.25,431.66 642.50,431.67 642.75,431.68 643.00,431.69 643.25,431.70 643.50,431.71 643.75,431.72 644.00,431.73 644.25,431.74 644.50,431.75 644.75,431.76 645.00,431.77 645.25,431.77 645.50,431.78 645.75,431.79 646.00,431.80 646.25,431.81 646.50,431.81 646.75,431.82 647.00,431.83 647.25,431.83 647.50,431.84 647.75,431.85 648.00,431.85 648.25,431.86 648.50,431.87 648.75,431.87 649.00,431.88 649.25,431.88 649.50,431.89 649.75,431.89 650.00,431.90 650.25,431.91 650.50,431.91 650.75,431.92 651.00,431.92 651.25,431.92 651.50,431.93 651.75,431.93 652.00,431.94 652.25,431.94 652.50,431.95 652.75,431.95 653.00,431.96 653.25,431.96 653.50,431.96 653.75,431.97 654.00,431.97 654.25,431.98 654.50,431.98 654.75,431.98 655.00,431.99 655.25,431.99 655.50,431.99 655.75,432.00 656.00,432.00 656.25,432.00 656.50,432.00 656.75,432.01 657.00,432.01 657.25,432.01 657.50,432.02 657.75,432.02 658.00,432.02 658.25,432.02 658.50,432.03 658.75,432.03 659.00,432.03 659.25,432.03 659.50,432.04 659.75,432.04 660.00,432.04 660.25,432.04 660.50,432.04 660.75,432.05 661.00,432.05 661.25,432.05 661.50,432.05 661.75,432.05 662.00,432.05 662.25,432.06 662.50,432.06 662.75,432.06 663.00,432.06 663.25,432.06 663.50,432.06 663.75,432.06 664.00,432.06 664.25,432.07 664.50,432.07 664.75,432.07 665.00,432.07 665.25,432.07 665.50,432.07 665.75,432.07 666.00,432.07 666.25,432.07 666.50,432.07 666.75,432.07 667.00,432.07 667.25,432.07 667.50,432.08 667.75,432.08 668.00,432.08 668.25,432.08 668.50,432.08 668.75,432.08 669.00,432.08 669.25,432.08 669.50,432.08 669.75,432.08 670.00,432.08 670.25,432.08 670.50,432.08 670.75,432.08 671.00,432.07 671.25,432.07 671.50,432.07 671.75,432.07 672.00,432.07 672.25,432.07 672.50,432.07 672.75,432.07 673.00,432.07 673.25,432.07 673.50,432.07 673.75,432.07 674.00,432.06 674.25,432.06 674.50,432.06 674.75,432.06 675.00,432.06 675.25,432.06 675.50,432.06 675.75,432.05 676.00,432.05 676.25,432.05 676.50,432.05 676.75,432.05 677.00,432.04 677.25,432.04 677.50,432.04 677.75,432.04 678.00,432.03 678.25,432.03 678.50,432.03 678.75,432.03 679.00,432.02 679.25,432.02 679.50,432.02 679.75,432.02 680.00,432.01 680.25,432.01 680.50,432.01 680.75,432.00 681.00,432.00 681.25,431.99 681.50,431.99 681.75,431.99 682.00,431.98 682.25,431.98 682.50,431.97 682.75,431.97 683.00,431.97 683.25,431.96 683.50,431.96 683.75,431.95 684.00,431.95 684.25,431.94 684.50,431.94 684.75,431.93 685.00,431.93 685.25,431.92 685.50,431.92 685.75,431.91 686.00,431.91 686.25,431.90 686.50,431.90 686.75,431.89 687.00,431.89 687.25,431.88 687.50,431.88 687.75,431.87 688.00,431.86 688.25,431.86 688.50,431.85 688.75,431.85 689.00,431.84 689.25,431.84 689.50,431.83 689.75,431.83 690.00,431.82 690.25,431.81 690.50,431.81 690.75,431.80 691.00,431.80 691.25,431.79 691.50,431.79 691.75,431.78 692.00,431.78 692.25,431.77 692.50,431.77 692.75,431.77 693.00,431.76 693.25,431.76 693.50,431.75 693.75,431.75 694.00,431.75 694.25,431.74 694.50,431.74 694.75,431.74 695.00,431.73 695.25,431.73 695.50,431.73 695.75,431.73 696.00,431.72 696.25,431.72 696.50,431.72 696.75,431.72 697.00,431.72 697.25,431.71 697.50,431.71 697.75,431.71 698.00,431.71 698.25,431.71 698.50,431.71 698.75,431.71 699.00,431.71 699.25,431.71 699.50,431.70 699.75,431.70 700.00,431.70 700.25,431.70 700.50,431.70 700.75,431.70 701.00,431.70 701.25,431.70 701.50,431.69 701.75,431.69 702.00,431.69 702.25,431.69 702.50,431.69 702.75,431.68 703.00,431.68 703.25,431.68 703.50,431.67 703.75,431.67 704.00,431.67 704.25,431.66 704.50,431.66 704.75,431.65 705.00,431.65 705.25,431.64 705.50,431.64 705.75,431.63 706.00,431.62 706.25,431.62 706.50,431.61 706.75,431.60 707.00,431.59 707.25,431.58 707.50,431.57 707.75,431.56 708.00,431.55 708.25,431.54 708.50,431.52 708.75,431.51 709.00,431.50 709.25,431.48 709.50,431.46 709.75,431.45 710.00,431.43 710.25,431.41 710.50,431.39 710.75,431.37 711.00,431.35 711.25,431.32 711.50,431.30 711.75,431.27 712.00,431.24 712.25,431.21 712.50,431.18 712.75,431.15 713.00,431.11 713.25,431.08 713.50,431.04 713.75,431.00 714.00,430.95 714.25,430.90 714.50,430.85 714.75,430.80 715.00,430.74 715.25,430.68 715.50,430.61 715.75,430.54 716.00,430.47 716.25,430.39 716.50,430.30 716.75,430.21 717.00,430.11 717.25,430.00 717.50,429.88 717.75,429.76 718.00,429.62 718.25,429.47 718.50,429.30 718.75,429.13 719.00,428.93 719.25,428.71 719.50,428.47 719.75,428.21 720.00,427.92 720.25,427.59 720.50,427.23 720.75,426.81 721.00,426.35 721.25,425.82 721.50,425.22 721.75,424.53 722.00,423.73 722.25,422.80 722.50,421.71 722.75,420.42 723.00,418.90 723.25,417.09 723.50,414.91 723.75,412.31 724.00,409.20 724.25,405.54 724.50,401.35 724.75,396.77 725.00,392.14 725.25,387.98 725.50,384.77 725.75,382.68 726.00,381.39 726.25,380.34 726.50,379.03 726.75,377.36 727.00,375.66 727.25,374.58 727.46,374.63 727.50,374.77 727.75,376.46 728.00,379.31 728.25,382.66 728.50,385.88 728.75,388.57 729.00,390.68 729.25,392.32 729.50,393.78 729.75,395.37 729.88,396.32 730.00,397.30 730.25,399.66 730.50,402.36 730.75,405.23 731.00,408.08 731.25,410.76 731.50,413.20 731.75,415.35 732.00,417.23 732.25,418.85 732.50,420.25 732.75,421.45 733.00,422.49 733.25,423.38 733.50,424.15 733.75,424.82 734.00,425.40 734.25,425.91 734.50,426.35 734.75,426.74 735.00,427.08 735.25,427.37 735.50,427.63 735.75,427.85 736.00,428.04 736.25,428.20 736.50,428.33 736.75,428.43 737.00,428.51 737.25,428.55 737.50,428.57 737.75,428.55 738.00,428.49 738.25,428.40 738.50,428.25 738.75,428.05 739.00,427.78 739.25,427.42 739.50,426.96 739.75,426.37 740.00,425.63 740.25,424.72 740.50,423.65 740.75,422.45 741.00,421.26 741.25,420.29 741.50,419.78 741.59,419.76 741.75,419.92 742.00,420.67 742.25,421.83 742.50,423.13 742.75,424.40 743.00,425.53 743.25,426.49 743.50,427.29 743.75,427.94 744.00,428.48 744.25,428.93 744.50,429.30 744.75,429.61 745.00,429.87 745.25,430.10 745.50,430.29 745.75,430.45 746.00,430.60 746.25,430.72 746.50,430.83 746.75,430.93 747.00,431.02 747.25,431.10 747.50,431.17 747.75,431.23 748.00,431.29 748.25,431.34 748.50,431.39 748.75,431.44 749.00,431.48 749.25,431.52 749.50,431.55 749.75,431.59 750.00,431.62" fill="none" stroke="#151515" stroke-width="1.1" shape-rendering="geometricPrecision"/>
</g>
</svg>
</body></html>
